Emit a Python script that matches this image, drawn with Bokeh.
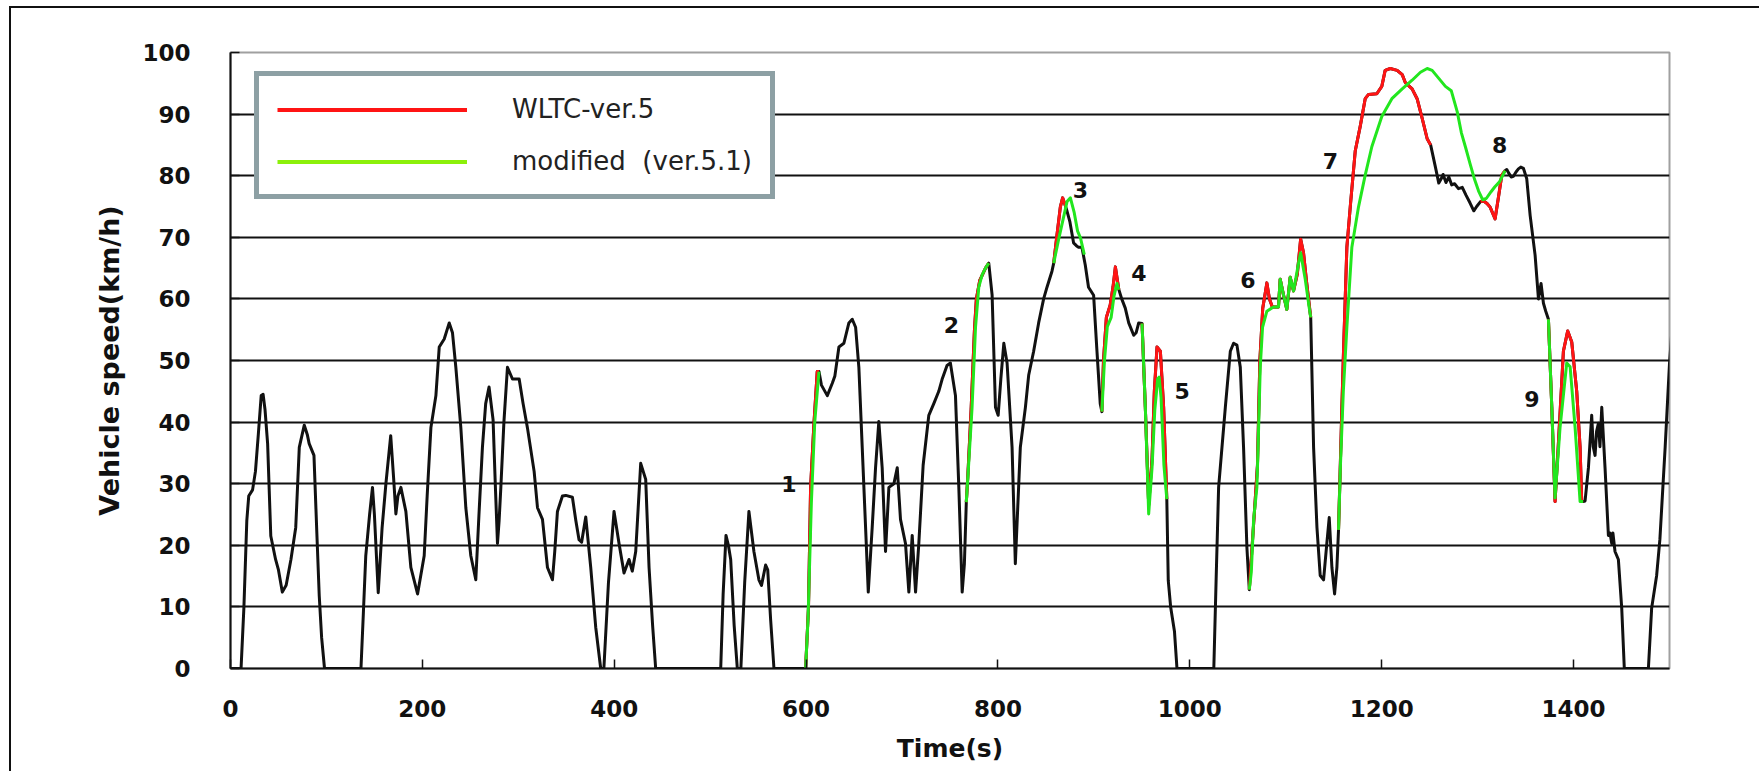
import numpy as np
from bokeh.plotting import figure
from bokeh.models import Range1d, FixedTicker, Legend, LegendItem
from bokeh.core.properties import value
from bokeh.embed import file_html
from bokeh.resources import INLINE

# ---------------- data ----------------
# WLTC ver.5 speed trace (time s, speed km/h)
w5_t = [0, 11, 14, 17, 19, 23, 26, 29, 32, 34, 36, 38.7, 42, 47, 50, 54, 58, 63, 68, 71.7,
        76.9, 80, 82, 87, 90, 92.5, 95, 98, 136, 138.5, 141, 145, 148, 150, 154, 158, 162, 167,
        170, 172.4, 174.5, 177.6, 182.8, 188, 195, 201.9, 205, 208.9, 214.1, 217.6, 222.8, 228,
        231.4, 234.9, 240.1, 245.3, 250.5, 255.7, 259, 262.6, 266, 269.5, 273.7, 276, 278.3, 280,
        281.8, 285, 288.7, 293.9, 300.9, 305, 309.5, 316.5, 320, 325.2, 330.4, 335.6, 338, 340.8,
        346, 349.5, 356.4, 360, 363.3, 366, 370.3, 375.5, 380.7, 385.9, 389.2, 394, 399.8, 405,
        410.2, 415.4, 418.8, 422.4, 427.6, 432.8, 436.3, 440, 443.2, 511, 513.5, 516.5, 519, 521.4,
        525, 528.3, 532, 536, 540.4, 545.6, 550.8, 553.5, 557.8, 560, 563, 566.5, 599.5, 602.5,
        604.7, 608.2, 611.6, 613.4, 616, 622.1, 627.3, 630, 634.2, 639.4, 644.6, 648.1, 651.6, 655,
        658.5, 662, 664.8, 668.9, 672.4, 675.8, 679.3, 682.8, 686.3, 691.5, 695, 698.4, 703.6,
        707.1, 710.6, 714.1, 717.5, 722, 727.9, 733.1, 738.3, 741.7, 746.9, 750.4, 755.7, 759.2,
        762.7, 765, 767, 768.5, 772, 775.5, 777.5, 781, 784, 787, 790.4, 793.9, 797.4, 800.2, 803,
        806.1, 809.5, 814.7, 818.1, 823.3, 828.6, 832, 837.2, 842.4, 847.6, 851.1, 856.3, 858.1,
        861.5, 865, 867.4, 869.5, 870.5, 871.9, 875, 878.8, 882, 884, 887.5, 891, 894.4, 899.7,
        903, 906.6, 908.3, 910, 913, 917, 920, 922.4, 924.5, 926, 929, 932.7, 936.3, 941.5, 944,
        946.7, 950.2, 953.6, 957.1, 960.6, 963, 965.8, 969.3, 972.7, 976, 977.5, 980, 984, 986.6,
        1025, 1027.5, 1030, 1037, 1042.2, 1045.6, 1049.1, 1052.6, 1056, 1059.5, 1062, 1065, 1068,
        1070.5, 1073, 1076, 1080.3, 1083, 1086, 1092.4, 1094.2, 1097.7, 1101.1, 1104.6, 1108.1,
        1112, 1115.5, 1118.5, 1121.5, 1124.5, 1126, 1129, 1132.5, 1135.9, 1139.4, 1142.8, 1145.3,
        1148.1, 1150.9, 1153.3, 1155, 1158.5, 1160.2, 1163.7, 1167.2, 1172.4, 1177.6, 1182.8,
        1186.3, 1194.9, 1200.1, 1203.6, 1208.9, 1216.1, 1221.4, 1224.7, 1231.7, 1236.9, 1242.2,
        1247.4, 1251, 1256, 1259.5, 1262, 1264, 1267, 1270, 1273, 1276, 1280, 1284, 1288, 1292,
        1296, 1299, 1303, 1306.3, 1309.8, 1313, 1318.2, 1321.7, 1325.2, 1328.6, 1330.4, 1332.1,
        1335, 1337.3, 1340, 1342.5, 1345, 1347.7, 1351.2, 1354.7, 1359.9, 1363.4, 1366.1, 1368.6,
        1371, 1373.8, 1377.3, 1380.7, 1384, 1389.4, 1393.9, 1398.1, 1403.3, 1406.8, 1408.5, 1410,
        1412, 1415.5, 1418.9, 1420.5, 1422.4, 1424, 1425.9, 1427.5, 1429.4, 1432.8, 1436.3, 1438,
        1439.8, 1441, 1443.2, 1446.7, 1450.2, 1452.9, 1478, 1481.4, 1486.6, 1490, 1495.5, 1500,
        1503]
w5_v = [0, 0, 10, 24, 28, 29, 32, 38, 44.3, 44.5, 42, 36.5, 21.5, 17.7, 16, 12.4, 13.5, 17.7,
        22.9, 35.9, 39.5, 38, 36.5, 34.6, 22, 11.8, 5, 0, 0, 9, 18.3, 25, 29.4, 25, 12.3, 22.8,
        30, 37.8, 31, 25.1, 28, 29.4, 25.5, 16.4, 12.1, 18.3, 28, 39.1, 44.3, 52.2, 53.5, 56.1,
        54.5, 48.9, 39.1, 26.1, 18.3, 14.4, 25, 35.9, 43, 45.7, 40.4, 30, 20.3, 24, 29.4, 40,
        48.9, 47, 47, 43, 39.1, 32, 26.1, 24.2, 16.4, 14.4, 19, 25.5, 28, 28.1, 27.8, 24, 20.9,
        20.5, 24.6, 16.4, 6.7, 0, 0, 14, 25.5, 20.3, 15.5, 17.7, 15.8, 19, 33.3, 30.7, 16.4, 7,
        0, 0, 12, 21.6, 20, 17.7, 7, 0, 0, 14, 25.5, 19, 14.4, 13.5, 16.8, 16, 8, 0, 0, 10,
        29.4, 39.8, 48.2, 48.2, 46, 44.3, 46.3, 47.5, 52.2, 52.8, 56.1, 56.7, 55.4, 48.9, 35.9,
        22.9, 12.4, 22.9, 32.6, 40.1, 32.6, 19, 29.4, 30, 32.6, 24.2, 20.3, 12.4, 21.6, 12.4,
        20.3, 33, 41.1, 43, 45, 46.9, 49.2, 49.6, 44.3, 29.4, 12.4, 17, 27, 31, 42, 55, 60, 63,
        64, 65, 65.8, 60.6, 42.4, 41.1, 47, 52.8, 49.6, 35.9, 17, 35.9, 42.4, 47.6, 51.5, 56.1,
        60, 61.9, 64.5, 65.8, 70.4, 74.9, 76.4, 75.5, 75, 74.3, 72.5, 69.1, 68.6, 68.4, 68.4,
        65.5, 61.9, 60.6, 52, 43, 41.7, 50, 57, 59, 62, 65.2, 63, 61.5, 60, 58.5, 56.1, 54.1,
        54.5, 56.1, 56, 42.4, 26.5, 34, 45, 52.2, 51.5, 42.4, 27.5, 14.3, 10, 6, 0, 0, 15, 29.4,
        42.4, 51.5, 52.8, 52.5, 48.9, 35.9, 19.6, 12.8, 20, 27, 33, 50, 58.5, 62.6, 60, 58.7,
        58.7, 63.2, 60.6, 58.3, 63.5, 61.3, 64, 69.7, 67.5, 63, 59, 57, 35.9, 22.9, 15.1, 14.4,
        20.3, 24.5, 16.4, 12.1, 16.4, 22.5, 42.4, 51.5, 68.4, 74.9, 84, 88, 92.5, 93.2, 93.3,
        94.5, 97.1, 97.4, 97.1, 96.4, 95.1, 94.1, 92.5, 89.3, 86, 85, 81.4, 78.8, 79.5, 80.2,
        78.9, 79.8, 78.5, 78.7, 77.9, 78.1, 76.8, 75.6, 74.3, 75, 75.8, 75.9, 75.5, 74.9, 73,
        76.5, 80.1, 80.8, 81, 80.5, 79.8, 79.9, 80.6, 81.1, 81.4, 81.2, 79.5, 73.6, 67.1, 60,
        62.5, 59.3, 58, 56.7, 42.4, 27.1, 36, 51.5, 54.8, 53, 45, 35.9, 27.1, 27.1, 27.2, 32.6,
        41.1, 36, 34.6, 38.5, 39.8, 36, 42.4, 32.6, 21.6, 22, 20.3, 22, 19, 17.7, 9.8, 0, 0,
        9.8, 15.1, 21, 36, 49.5, 56]

# modified parts: ver.5 spans (red) and ver.5.1 replacements (green)
red_spans = [(599.5, 613.4), (767, 790.4), (858.1, 870.5), (908.3, 926), (950.2, 976),
             (1062, 1126), (1155, 1251), (1303, 1328.6), (1373.8, 1410)]

green_t = [
    [599.5, 602, 605.5, 609, 613.4],
    [767, 769, 773, 776.6, 780, 783.5, 787, 790.4],
    [858.1, 863, 868, 872, 875.5, 879.5, 883, 886, 890],
    [908.3, 911, 914, 918, 921, 924, 926],
    [950.2, 953.6, 957.1, 960.6, 963.5, 966.5, 968, 970, 973, 976],
    [1062, 1064.1, 1066.5, 1069.9, 1071.5, 1073.4, 1075.8, 1080.3, 1087.2, 1092.4, 1094.2,
     1097.7, 1101.1, 1104.6, 1108.1, 1113.3, 1115.5, 1120.3, 1124.5, 1126],
    [1155, 1157, 1160, 1163.7, 1168.9, 1175.8, 1182.8, 1189.7, 1200.1, 1210.6, 1221.4, 1231.7,
     1240.4, 1247.4, 1252.6, 1259.5, 1266.4, 1272.5, 1278.7, 1283, 1287.6, 1292, 1296.4, 1301,
     1305.2, 1309, 1314, 1318, 1322.8, 1328.6],
    [1373.8, 1377.3, 1380.7, 1385.9, 1392.9, 1396.4, 1401.6, 1406.8, 1410],
]
green_v = [
    [0, 8, 27, 40, 48.2],
    [27, 32, 42.4, 55.4, 61.9, 63.9, 65, 65.8],
    [65.8, 69.5, 73, 75.8, 76.4, 74, 71, 69.9, 67.2],
    [41.7, 50, 55.5, 57, 60.5, 62.5, 61.5],
    [56, 42.4, 25.1, 32.6, 42, 47, 47.3, 44, 33, 27.5],
    [12.8, 15.7, 24.2, 29.4, 38, 48.9, 55.4, 58, 58.7, 58.7, 63.2, 60.6, 58.3, 63.5, 61.3,
     65.8, 67.5, 63.2, 58.5, 57],
    [22.5, 33, 45, 55.4, 68.4, 74.9, 80.1, 84.7, 89.6, 92.5, 94.1, 95.5, 96.8, 97.4, 97.1,
     95.8, 94.5, 93.8, 90.4, 87, 84.5, 82, 79.6, 77.5, 76.1, 76.3, 77.4, 78.2, 79, 80.8],
    [56.7, 42.4, 27.7, 39.1, 49.6, 49, 39.1, 27.1, 27.1],
]

# numbered annotations
label_text = ["1", "2", "3", "4", "5", "6", "7", "8", "9"]
label_t = [582, 751.5, 886, 947, 992, 1060.5, 1146.5, 1323, 1356.5]
label_v = [30, 55.7, 77.6, 64.2, 45, 63, 82.4, 85, 43.7]

x_ticks = [0, 200, 400, 600, 800, 1000, 1200, 1400]
y_ticks = [0, 10, 20, 30, 40, 50, 60, 70, 80, 90, 100]
grid_ticks = [10, 20, 30, 40, 50, 60, 70, 80, 90]

legend_labels = ["WLTC-ver.5", "modified  (ver.5.1)"]

# ---------------- styling ----------------
BLACK = "#111111"
RED = "#ff1414"
GREEN = "#22e61e"
LEG_GREEN = "#8cf00a"
FONT = "DejaVu Sans"

t_arr = np.array(w5_t, dtype=float)
v_arr = np.array(w5_v, dtype=float)
red_xs, red_ys = [], []
for a, b in red_spans:
    m = (t_arr >= a - 1e-9) & (t_arr <= b + 1e-9)
    red_xs.append(t_arr[m].tolist())
    red_ys.append(v_arr[m].tolist())

p = figure(width=1750, height=765, x_range=Range1d(0, 1500), y_range=Range1d(0, 100),
           output_backend="svg", toolbar_location=None,
           min_border_left=219, min_border_right=92, min_border_top=44, min_border_bottom=105,
           background_fill_color="white", border_fill_color="white",
           outline_line_color="#a0a0a0", outline_line_width=2)
p.styles = {"margin-left": "9px", "margin-top": "6px",
            "border-left": "2px solid #111", "border-top": "2px solid #111"}

p.xgrid.visible = False
p.ygrid.ticker = FixedTicker(ticks=grid_ticks)
p.ygrid.grid_line_color = BLACK
p.ygrid.grid_line_width = 2

for ax in (p.xaxis[0], p.yaxis[0]):
    ax.axis_line_color = BLACK
    ax.axis_line_width = 2
    ax.major_tick_line_color = BLACK
    ax.major_tick_line_width = 1.5
    ax.major_tick_in = 9
    ax.major_tick_out = 0
    ax.minor_tick_line_color = None
    ax.major_label_text_font = FONT
    ax.major_label_text_font_style = "bold"
    ax.major_label_text_font_size = "23px"
    ax.major_label_text_color = BLACK
    ax.axis_label_text_font = FONT
    ax.axis_label_text_font_style = "bold"
    ax.axis_label_text_color = BLACK

p.xaxis.ticker = FixedTicker(ticks=x_ticks)
p.yaxis.ticker = FixedTicker(ticks=y_ticks)
p.xaxis.axis_label = "Time(s)"
p.yaxis.axis_label = "Vehicle speed(km/h)"
p.xaxis.axis_label_text_font_size = "25px"
p.yaxis.axis_label_text_font_size = "27px"
p.xaxis.major_label_standoff = 31
p.yaxis.major_label_standoff = 40
p.xaxis.axis_label_standoff = 14
p.yaxis.axis_label_standoff = 14

p.line(w5_t, w5_v, line_color=BLACK, line_width=3, line_join="round")
p.multi_line(red_xs, red_ys, line_color=RED, line_width=3, line_join="round")
p.multi_line(green_t, green_v, line_color=GREEN, line_width=3, line_join="round")

p.text(x=label_t, y=label_v, text=label_text, text_font=value(FONT), text_font_style="bold",
       text_font_size=value("22px"), text_align="center", text_baseline="middle",
       text_color=BLACK)

# legend proxies (no visible data)
lr = p.line(x=np.array([np.nan]), y=np.array([np.nan]), line_color=RED, line_width=4)
lg = p.line(x=np.array([np.nan]), y=np.array([np.nan]), line_color=LEG_GREEN, line_width=4)
legend = Legend(items=[LegendItem(label=legend_labels[0], renderers=[lr]),
                       LegendItem(label=legend_labels[1], renderers=[lg])],
                location=(24, 469), orientation="vertical", margin=0, padding=18, spacing=22,
                glyph_width=190, glyph_height=29, label_height=29, label_standoff=45,
                label_text_font=FONT, label_text_font_size="26px", label_text_color="#222222",
                border_line_color="#8da0a4", border_line_width=5, border_line_alpha=1.0,
                background_fill_color="white", background_fill_alpha=1.0)
p.add_layout(legend, "center")

open("out.html", "w").write(file_html(p, INLINE))
